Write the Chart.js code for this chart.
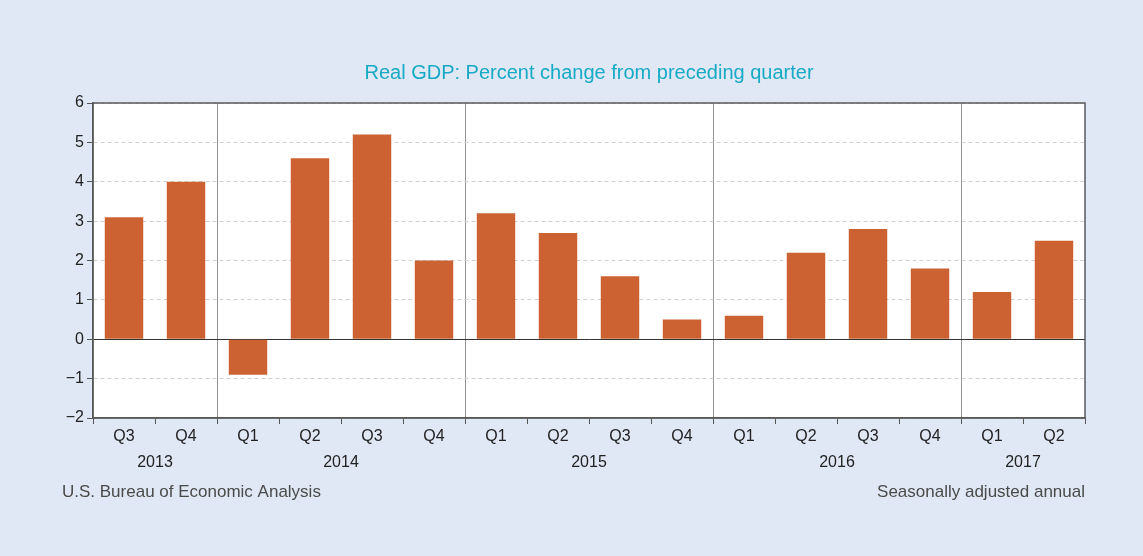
<!DOCTYPE html>
<html>
<head>
<meta charset="utf-8">
<script src="https://cdn.jsdelivr.net/npm/chart.js@4.4.1/dist/chart.umd.min.js"></script>
<style>
  html, body { margin: 0; padding: 0; background: #e0e8f5; }
  #wrap { width: 1143px; height: 556px; }
</style>
</head>
<body>
<div id="wrap"><canvas id="gdp" width="1143" height="556"></canvas></div>
<script>
// Quarter labels and the year each quarter belongs to
const quarters = ['Q3', 'Q4', 'Q1', 'Q2', 'Q3', 'Q4', 'Q1', 'Q2', 'Q3', 'Q4', 'Q1', 'Q2', 'Q3', 'Q4', 'Q1', 'Q2'];
const years = ['2013', '2013', '2014', '2014', '2014', '2014', '2015', '2015', '2015', '2015', '2016', '2016', '2016', '2016', '2017', '2017'];
// Real GDP, percent change from preceding quarter (seasonally adjusted annual rate)
const gdpChange = [3.1, 4.0, -0.9, 4.6, 5.2, 2.0, 3.2, 2.7, 1.6, 0.5, 0.6, 2.2, 2.8, 1.8, 1.2, 2.5];
// Value axis range
const yMin = -2;
const yMax = 6;
const yStep = 1;

const titleText = 'Real GDP: Percent change from preceding quarter';
const sourceText = 'U.S. Bureau of Economic Analysis';
const noteText = 'Seasonally adjusted annual';

const FONT = '"Liberation Sans", Arial, Helvetica, sans-serif';
const BG = '#e0e8f5';

function isYearStart(i) {
  return i > 0 && i < years.length && years[i] !== years[i - 1];
}

const decor = {
  id: 'decor',
  beforeDraw(chart) {
    const { ctx, chartArea: a } = chart;
    ctx.save();
    ctx.fillStyle = BG;
    ctx.fillRect(0, 0, chart.width, chart.height);
    ctx.fillStyle = '#ffffff';
    ctx.fillRect(a.left, a.top, a.right - a.left, a.bottom - a.top);
    ctx.restore();
  },
  afterDraw(chart) {
    const { ctx, chartArea: a } = chart;
    const x = chart.scales.x;
    ctx.save();
    // plot frame
    ctx.strokeStyle = '#5a5a5a';
    ctx.lineWidth = 1.5;
    ctx.strokeRect(a.left, a.top, a.right - a.left, a.bottom - a.top);

    // title centred over the plot area
    ctx.fillStyle = '#17aac6';
    ctx.font = '20px ' + FONT;
    ctx.textAlign = 'center';
    ctx.textBaseline = 'middle';
    ctx.fillText(titleText, (a.left + a.right) / 2, a.top - 30);

    // year labels centred under each group of quarters
    ctx.fillStyle = '#222';
    ctx.font = '16px ' + FONT;
    let start = 0;
    for (let i = 1; i <= years.length; i++) {
      if (i === years.length || years[i] !== years[start]) {
        const cx = (x.getPixelForValue(start) + x.getPixelForValue(i - 1)) / 2;
        ctx.fillText(years[start], cx, a.bottom + 45);
        start = i;
      }
    }

    // source and note lines
    ctx.fillStyle = '#4a4a4a';
    ctx.font = '17px "Liberation Sans Narrow", ' + FONT;
    ctx.textAlign = 'left';
    ctx.fillText(sourceText, 62, a.bottom + 74);
    ctx.textAlign = 'right';
    ctx.fillText(noteText, a.right, a.bottom + 74);
    ctx.restore();
  }
};

new Chart(document.getElementById('gdp'), {
  type: 'bar',
  data: {
    labels: quarters,
    datasets: [{
      data: gdpChange,
      backgroundColor: '#cc6232',
      borderWidth: 0,
      barPercentage: 0.62,
      categoryPercentage: 1.0
    }]
  },
  options: {
    responsive: false,
    animation: false,
    devicePixelRatio: 1,
    layout: { padding: { left: 0, right: 58, top: 103, bottom: 0 } },
    plugins: {
      legend: { display: false },
      tooltip: { enabled: false },
      title: { display: false }
    },
    scales: {
      x: {
        grid: {
          offset: true,
          color: ctx => isYearStart(ctx.index) ? '#929292' : 'rgba(0,0,0,0)',
          lineWidth: 1,
          tickColor: '#555',
          tickLength: 6,
          tickWidth: 1
        },
        border: { color: '#5a5a5a', width: 1.5 },
        ticks: {
          color: '#222',
          font: { family: FONT, size: 16 },
          padding: 3,
          maxRotation: 0,
          autoSkip: false
        },
        afterFit(s) { s.height = 138; }
      },
      y: {
        min: yMin,
        max: yMax,
        grid: {
          color: ctx => (ctx.tick && ctx.tick.value === 0) ? '#333' : '#d0d0d0',
          lineWidth: 1,
          tickColor: '#555',
          tickLength: 6
        },
        border: {
          color: '#5a5a5a',
          width: 1.5,
          dash: ctx => (ctx.tick && ctx.tick.value === 0) ? [] : [4, 3]
        },
        ticks: {
          stepSize: yStep,
          color: '#222',
          font: { family: FONT, size: 16 },
          padding: 3,
          callback: v => v < 0 ? '\u2212' + Math.abs(v) : String(v)
        },
        afterFit(s) { s.width = 93; }
      }
    }
  },
  plugins: [decor]
});
</script>
</body>
</html>
